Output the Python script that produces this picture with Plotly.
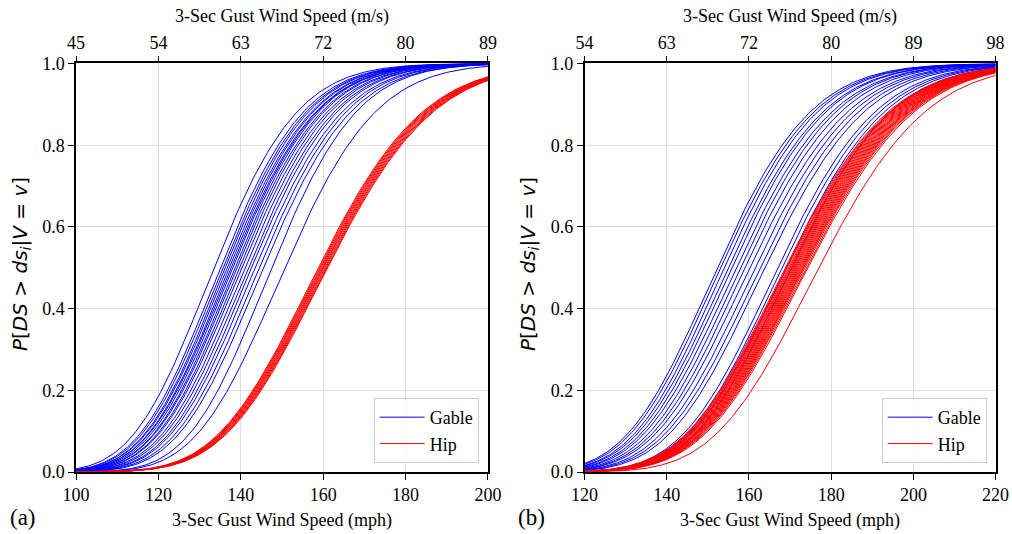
import math
import plotly.graph_objects as go

# ---------------- data (fragility parameters) ----------------
# Panel (a)
a_gable_median = [133.5, 135.0, 135.6, 136.2, 136.7, 137.2, 137.6, 138.0, 138.5, 139.0,
                  139.6, 140.2, 141.0, 141.8, 142.6, 143.5, 144.5, 145.5, 147.5, 150.7]
a_gable_beta = [0.119, 0.118, 0.118, 0.117, 0.118, 0.117, 0.118, 0.117, 0.116, 0.117,
                0.116, 0.117, 0.116, 0.116, 0.115, 0.116, 0.115, 0.115, 0.110, 0.115]
a_hip_median = [158.8, 159.05, 159.3, 159.55, 159.8, 160.05, 160.3, 160.55, 160.8, 161.05]
a_hip_beta = [0.125, 0.125, 0.125, 0.125, 0.125, 0.125, 0.125, 0.125, 0.125, 0.125]

# Panel (b)
b_gable_median = [152.3, 153.1, 154.0, 155.0, 155.8, 156.9, 157.9, 159.0, 160.2, 161.5,
                  162.7, 163.9, 167.0, 168.0, 169.0, 170.3]
b_gable_beta = [0.117, 0.117, 0.116, 0.117, 0.116, 0.117, 0.116, 0.116, 0.117, 0.116,
                0.116, 0.116, 0.112, 0.112, 0.112, 0.112]
b_hip_median = [168.8, 169.05, 169.3, 169.55, 169.8, 170.05, 170.3, 170.55, 170.8, 171.05,
                171.3, 171.55, 171.8, 172.05, 172.3, 172.55, 172.8, 173.05, 173.3, 173.6,
                173.9, 174.3, 177.0]
b_hip_beta = [0.117, 0.117, 0.117, 0.117, 0.117, 0.117, 0.117, 0.117, 0.117, 0.117,
              0.117, 0.117, 0.117, 0.117, 0.117, 0.117, 0.117, 0.117, 0.117, 0.117,
              0.117, 0.117, 0.115]

a_x_range = [100, 200]
b_x_range = [120, 220]
a_bottom_ticks = [100, 120, 140, 160, 180, 200]
a_top_tick_labels = ["45", "54", "63", "72", "80", "89"]
b_bottom_ticks = [120, 140, 160, 180, 200, 220]
b_top_tick_labels = ["54", "63", "72", "80", "89", "98"]
y_ticks = [0.0, 0.2, 0.4, 0.6, 0.8, 1.0]

series_names = ["Gable", "Hip"]
series_colors = ["#0000ff", "#ff0000"]


def lognormal_cdf(v, median, beta):
    return 0.5 * (1.0 + math.erf(math.log(v / median) / (beta * math.sqrt(2.0))))


def speeds(rng):
    n = int((rng[1] - rng[0]) / 0.5)
    return [rng[0] + 0.5 * i for i in range(n + 1)]


fig = go.Figure()

# Gable curves on the bottom (mph) axis, Hip curves on the coincident top (m/s) axis
panels = [
    (["x", "x3"], "y", "legend", a_x_range, [(a_gable_median, a_gable_beta), (a_hip_median, a_hip_beta)]),
    (["x2", "x4"], "y2", "legend2", b_x_range, [(b_gable_median, b_gable_beta), (b_hip_median, b_hip_beta)]),
]

for xas, ya, leg, rng, groups in panels:
    v = speeds(rng)
    for gi, (meds, betas) in enumerate(groups):
        for k, (m, b) in enumerate(zip(meds, betas)):
            fig.add_trace(go.Scatter(
                x=v, y=[lognormal_cdf(s, m, b) for s in v],
                mode="lines", xaxis=xas[gi], yaxis=ya,
                line=dict(color=series_colors[gi], width=1),
                name=series_names[gi], legendgroup=series_names[gi] + xas[0],
                showlegend=(k == 0), legend=leg, hoverinfo="skip",
            ))

tick_font = dict(family="Liberation Serif", size=18, color="black")
grid_col = "#dddddd"

dom_a = [0.0751, 0.4822]
dom_b = [0.5776, 0.9838]
dom_y = [0.1161, 0.8811]

common_x = dict(showline=True, linecolor="black", linewidth=1.5, mirror=True,
                ticks="outside", ticklen=6, tickwidth=1.2, tickcolor="black",
                showgrid=True, gridcolor=grid_col, gridwidth=1, zeroline=False,
                tickfont=tick_font, automargin=False)
common_y = dict(showline=True, linecolor="black", linewidth=1.5, mirror=True,
                ticks="outside", ticklen=6, tickwidth=1.2, tickcolor="black",
                showgrid=True, gridcolor=grid_col, gridwidth=1, zeroline=False,
                tickfont=tick_font, range=[0, 1], tickvals=y_ticks,
                tickformat=".1f", domain=dom_y, automargin=False)

legend_common = dict(yanchor="bottom", xanchor="right", y=0.133,
                     bgcolor="rgba(255,255,255,0.85)", bordercolor="#cccccc", borderwidth=1,
                     tracegroupgap=0, itemwidth=45,
                     font=dict(family="Liberation Serif", size=18, color="black"))

fig.update_layout(
    width=1012, height=534,
    margin=dict(l=0, r=0, t=0, b=0),
    paper_bgcolor="white", plot_bgcolor="white",
    xaxis=dict(common_x, domain=dom_a, range=a_x_range, tickvals=a_bottom_ticks, anchor="y"),
    xaxis2=dict(common_x, domain=dom_b, range=b_x_range, tickvals=b_bottom_ticks, anchor="y2"),
    xaxis3=dict(common_x, domain=dom_a, range=a_x_range, tickvals=a_bottom_ticks,
                ticktext=a_top_tick_labels, overlaying="x", side="top", anchor="y", showgrid=False),
    xaxis4=dict(common_x, domain=dom_b, range=b_x_range, tickvals=b_bottom_ticks,
                ticktext=b_top_tick_labels, overlaying="x2", side="top", anchor="y2", showgrid=False),
    yaxis=dict(common_y, anchor="x"),
    yaxis2=dict(common_y, anchor="x2"),
    legend=dict(legend_common, x=0.473),
    legend2=dict(legend_common, x=0.975),
)

title_font = dict(family="Liberation Serif", size=18, color="black")
ytitle = "<i>P</i>[<i>DS</i> > <i>ds<sub>i</sub></i>|<i>V</i> = <i>v</i>]"
ytitle_font = dict(family="DejaVu Sans", size=20, color="black")

annotations = []
for dom, lab, lx in [(dom_a, "(a)", 23), (dom_b, "(b)", 531)]:
    cx = (dom[0] + dom[1]) / 2
    annotations.append(dict(text="3-Sec Gust Wind Speed (mph)", x=cx, y=1 - 520 / 534,
                            xref="paper", yref="paper", showarrow=False, font=title_font,
                            xanchor="center", yanchor="middle"))
    annotations.append(dict(text="3-Sec Gust Wind Speed (m/s)", x=cx, y=1 - 17 / 534,
                            xref="paper", yref="paper", showarrow=False, font=title_font,
                            xanchor="center", yanchor="middle"))
    annotations.append(dict(text=lab, x=lx / 1012, y=1 - 517 / 534, xref="paper", yref="paper",
                            showarrow=False, xanchor="center", yanchor="middle",
                            font=dict(family="Liberation Serif", size=23, color="black")))
annotations.append(dict(text=ytitle, x=21 / 1012, y=1 - 264 / 534, xref="paper", yref="paper",
                        showarrow=False, textangle=-90, font=ytitle_font,
                        xanchor="center", yanchor="middle"))
annotations.append(dict(text=ytitle, x=529 / 1012, y=1 - 264 / 534, xref="paper", yref="paper",
                        showarrow=False, textangle=-90, font=ytitle_font,
                        xanchor="center", yanchor="middle"))
fig.update_layout(annotations=annotations)

fig.write_html("out.html")
